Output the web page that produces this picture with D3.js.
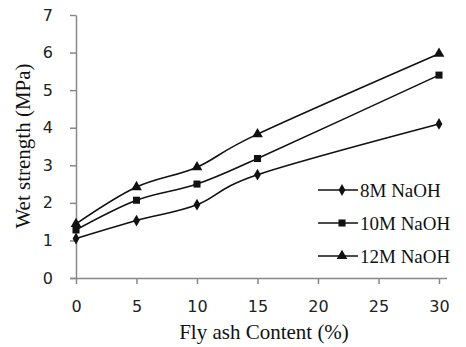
<!DOCTYPE html>
<html>
<head>
<meta charset="utf-8">
<script src="https://cdn.jsdelivr.net/npm/d3@7"></script>
<style>
  body { margin: 0; background: #fff; }
  .tick text { font-family: "DejaVu Sans", sans-serif; font-size: 16px; fill: #222; }
</style>
</head>
<body>
<div id="chart"></div>
<script>
// fly ash content (%)
var flyAsh = [0, 5, 10, 15, 30];
var naoh8 = [1.05, 1.53, 1.95, 2.75, 4.1];
var naoh10 = [1.28, 2.07, 2.5, 3.18, 5.4];
var naoh12 = [1.44, 2.42, 2.95, 3.83, 5.97];
var seriesNames = ["8M NaOH", "10M NaOH", "12M NaOH"];
var seriesShapes = [d3.symbolDiamond, d3.symbolSquare, d3.symbolTriangle];
var xTicks = [0, 5, 10, 15, 20, 25, 30];
var yTicks = [0, 1, 2, 3, 4, 5, 6, 7];

var width = 466, height = 347;
var margin = { left: 76, top: 15, right: 27, bottom: 69 };

var svg = d3.select("#chart").append("svg").attr("width", width).attr("height", height);

var x = d3.scaleLinear().domain([0, 30]).range([margin.left, width - margin.right]);
var y = d3.scaleLinear().domain([0, 7]).range([height - margin.bottom, margin.top]);

var xAxis = svg.append("g")
  .attr("transform", "translate(0," + y(0) + ")")
  .call(d3.axisBottom(x).tickValues(xTicks).tickFormat(d3.format("d")).tickSize(6).tickPadding(17).tickSizeOuter(0));
var yAxis = svg.append("g")
  .attr("transform", "translate(" + x(0) + ",0)")
  .call(d3.axisLeft(y).tickValues(yTicks).tickFormat(d3.format("d")).tickSize(6).tickPadding(17).tickSizeOuter(0));
[xAxis, yAxis].forEach(function (g) {
  g.select(".domain").attr("stroke", "#888").attr("stroke-width", 1.5);
  g.selectAll(".tick line").attr("stroke", "#888").attr("stroke-width", 1.5);
});
// x axis domain extends a bit past 30
xAxis.select(".domain").attr("d", "M" + (x(0) - 6) + ",0.5H" + (x(30) + 8));

var data = [naoh8, naoh10, naoh12];
var line = d3.line()
  .x(function (d, i) { return x(flyAsh[i]); })
  .y(function (d) { return y(d); })
  .curve(d3.curveCardinal.tension(0));

var sizes = [40, 50, 50];

data.forEach(function (vals, k) {
  svg.append("path")
    .attr("d", line(vals))
    .attr("fill", "none")
    .attr("stroke", "#111")
    .attr("stroke-width", 1.6);
  svg.selectAll(".m" + k)
    .data(vals)
    .enter()
    .append("path")
    .attr("class", "m" + k)
    .attr("transform", function (d, i) { return "translate(" + x(flyAsh[i]) + "," + y(d) + ")"; })
    .attr("d", d3.symbol().type(seriesShapes[k]).size(sizes[k]))
    .attr("fill", "#111");
});

// legend
var legend = svg.append("g");
var legY = [190, 223, 256];
seriesNames.forEach(function (name, k) {
  var g = legend.append("g").attr("transform", "translate(0," + legY[k] + ")");
  g.append("line").attr("x1", 318).attr("x2", 358).attr("y1", 0).attr("y2", 0)
    .attr("stroke", "#111").attr("stroke-width", 1.6);
  g.append("path").attr("transform", "translate(342,0)")
    .attr("d", d3.symbol().type(seriesShapes[k]).size(sizes[k])).attr("fill", "#111");
  g.append("text").attr("x", 360).attr("y", 7)
    .attr("font-family", "Liberation Serif, serif").attr("font-size", 19)
    .attr("fill", "#111").text(name);
});

svg.append("text")
  .attr("x", 264).attr("y", 339)
  .attr("text-anchor", "middle")
  .attr("font-family", "Liberation Serif, serif").attr("font-size", 21)
  .attr("fill", "#111").text("Fly ash Content (%)");

svg.append("text")
  .attr("transform", "translate(30,146) rotate(-90)")
  .attr("text-anchor", "middle")
  .attr("font-family", "Liberation Serif, serif").attr("font-size", 21)
  .attr("fill", "#111").text("Wet strength (MPa)");
</script>
</body>
</html>
